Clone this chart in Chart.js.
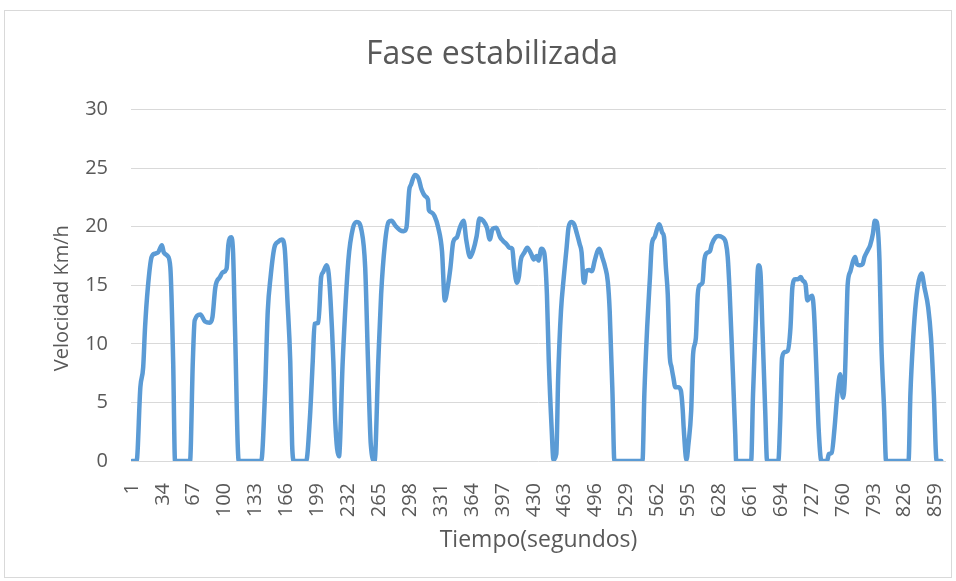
<html>
<head>
  <meta charset="UTF-8">
  <script src="https://cdn.jsdelivr.net/npm/chart.js@4.4.0/dist/chart.umd.min.js"></script>
  <style>
    body { margin: 0; background: #ffffff; }
  </style>
</head>

<body>
  <canvas id='chart' width="956" height="581"></canvas>
  <script>
    // segundos
    const tiempo = [1, 6, 10, 13, 15, 18, 22, 26, 29, 33, 35, 39, 42, 45, 47,
      63, 66, 68, 74, 79, 84, 87, 90, 95, 98, 102, 104, 107, 109, 111, 115,
      139, 143, 146, 149, 153, 157, 161, 164, 167, 170, 172, 174,
      187, 191, 194, 196, 200, 203, 205, 209, 211, 213, 216, 218, 222,
      226, 232, 237, 241, 246, 250, 253, 256, 260,
      264, 267, 271, 275, 278, 283, 287, 291, 294, 297, 299, 303, 307, 310, 314, 317, 318, 321, 324, 328,
      332, 335, 338, 341, 344, 348, 351, 355, 358, 362, 365, 369, 372, 376, 380, 383,
      386, 390, 394, 397, 401, 404, 407, 409, 412, 414, 416, 420, 423, 427, 430, 433, 435, 438, 441,
      444, 446, 449, 451, 454, 456, 459, 462, 465, 467, 470, 473, 476, 479, 481, 483, 484, 486, 489,
      492, 495, 498, 500, 503, 506, 509, 511, 514, 516,
      546, 548, 551, 554, 556, 559, 562, 564, 567, 569, 571, 573, 575, 577, 579, 581, 584, 587, 589,
      590, 593, 595, 598, 600, 603, 605, 607, 610, 612, 614, 618, 620, 624, 627, 631, 635, 637, 639,
      642, 645, 646,
      662, 664, 667, 669, 670, 672, 674, 677, 679,
      691, 693, 695, 698, 701, 704, 706, 709, 712, 715, 717, 720, 722, 725, 727, 729, 732, 734, 737,
      743, 745, 748, 751, 754, 757, 760, 762, 764, 765, 768, 771, 773, 775, 778, 781, 783, 786, 789,
      792, 794, 796, 799, 801, 804, 806,
      830, 832, 835, 838, 841, 844, 847, 851, 854, 857, 860, 865];

    // Km/h
    const velocidad = [0, 0, 6.3, 8.0, 11.4, 14.8, 17.4, 17.7, 17.8, 18.4, 17.8, 17.5, 16.5, 8.5, 0,
      0, 8.5, 12.0, 12.5, 11.9, 11.8, 12.3, 14.8, 15.7, 16.1, 16.4, 18.5, 19.1, 17.7, 11.4, 0,
      0, 5.7, 12.8, 15.7, 18.2, 18.7, 18.9, 18.2, 13.7, 8.5, 1.4, 0,
      0, 3.7, 8.5, 11.7, 11.8, 15.7, 16.1, 16.7, 16.0, 13.7, 8.5, 3.4, 0.4,
      8.5, 17.1, 19.9, 20.4, 19.7, 16.5, 8.5, 1.4, 0,
      8.5, 14.2, 18.5, 20.4, 20.5, 20.0, 19.7, 19.6, 19.9, 23.1, 23.6, 24.4, 24.1, 23.2, 22.6, 22.3, 21.4, 21.2, 20.9, 19.9,
      17.9, 13.7, 14.8, 16.5, 18.7, 19.1, 19.9, 20.5, 18.8, 17.4, 17.9, 19.2, 20.7, 20.5, 19.9, 18.9,
      19.8, 19.9, 19.1, 18.8, 18.5, 18.2, 18.1, 16.5, 15.2, 15.7, 17.1, 17.8, 18.2, 17.7, 17.2, 17.5, 17.1, 18.1, 17.8,
      14.2, 8.5, 2.8, 0.1, 0.6, 7.1, 12.8, 15.7, 18.2, 19.9, 20.4, 20.2, 19.4, 18.5, 17.8, 15.4, 15.2, 16.2, 16.3,
      16.2, 17.1, 17.9, 18.1, 17.4, 16.6, 15.3, 12.8, 5.7, 0,
      0, 5.7, 11.4, 15.7, 18.5, 19.1, 19.9, 20.2, 19.5, 19.1, 16.5, 14.2, 9.1, 8.0, 7.1, 6.3, 6.3, 6.0, 4.3,
      2.8, 0.1, 1.4, 4.3, 9.1, 10.5, 14.2, 15.0, 15.2, 17.1, 17.7, 17.9, 18.5, 19.1, 19.2, 19.1, 18.6, 17.4, 14.5,
      8.5, 2.3, 0,
      0, 5.7, 12.0, 16.2, 16.7, 16.0, 11.4, 4.3, 0,
      0, 3.4, 8.8, 9.3, 9.4, 11.4, 14.8, 15.5, 15.5, 15.7, 15.4, 15.1, 13.7, 14.0, 14.1, 12.8, 7.1, 2.8, 0,
      0, 0.6, 0.7, 2.8, 5.7, 7.4, 5.4, 7.0, 12.5, 15.0, 16.2, 17.1, 17.4, 16.8, 16.7, 16.8, 17.4, 17.9, 18.4,
      19.4, 20.5, 20.4, 17.1, 10.0, 4.3, 0,
      0, 5.7, 10.5, 13.7, 15.4, 16.0, 14.8, 13.1, 10.5, 5.7, 0, 0];

    const etiquetasX = [1, 34, 67, 100, 133, 166, 199, 232, 265, 298, 331, 364, 397, 430,
      463, 496, 529, 562, 595, 628, 661, 694, 727, 760, 793, 826, 859];

    const puntos = tiempo.map((t, i) => ({x: t, y: velocidad[i]}));

    const gris = '#595959';

    const marco = {
      id: 'marco',
      beforeDraw(chart) {
        const c = chart.ctx;
        c.save();
        c.fillStyle = '#ffffff';
        c.fillRect(0, 0, chart.width, chart.height);
        c.strokeStyle = '#d9d9d9';
        c.lineWidth = 1;
        c.strokeRect(4.5, 10.5, 947, 567);
        c.restore();
      }
    };

    const ctx = document.getElementById('chart').getContext('2d');
    const myChart = new Chart(ctx, {
      type: 'line',
      data: {
        datasets: [
          {
            label: 'Velocidad',
            data: puntos,
            borderColor: '#5b9bd5',
            borderWidth: 4.5,
            pointRadius: 0,
            fill: false,
            cubicInterpolationMode: 'monotone',
            borderJoinStyle: 'round',
            borderCapStyle: 'round'
          }
        ]
      },
      options: {
        responsive: false,
        animation: false,
        layout: { padding: { left: 38, right: 10, top: 0, bottom: 0 } },
        plugins: {
          legend: { display: false },
          tooltip: { enabled: false },
          title: {
            display: true,
            text: 'Fase estabilizada',
            color: gris,
            font: { family: 'Open Sans', size: 32, weight: 'normal' },
            padding: { top: 36, bottom: 35 }
          }
        },
        scales: {
          x: {
            type: 'linear',
            min: 0,
            max: 870,
            grid: { display: false },
            border: { display: false },
            afterBuildTicks: (scale) => {
              scale.ticks = etiquetasX.map(v => ({value: v}));
            },
            afterFit: (scale) => {
              scale.height = 120;
              scale.paddingLeft = 0;
              scale.paddingRight = 0;
            },
            ticks: {
              autoSkip: false,
              minRotation: 90,
              maxRotation: 90,
              padding: 14,
              color: gris,
              font: { family: 'Open Sans', size: 20 },
              callback: (v) => String(v)
            },
            title: {
              display: true,
              text: 'Tiempo(segundos)',
              color: gris,
              font: { family: 'Open Sans', size: 23 },
              padding: { top: 0, bottom: 27 }
            }
          },
          y: {
            min: 0,
            max: 30,
            grid: { color: '#d9d9d9', lineWidth: 1, drawTicks: false },
            border: { display: false },
            afterFit: (scale) => { scale.width = 93; },
            ticks: {
              stepSize: 5,
              padding: 23,
              color: gris,
              font: { family: 'Open Sans', size: 20 }
            },
            title: {
              display: true,
              text: 'Velocidad Km/h     ',
              color: gris,
              font: { family: 'Open Sans', size: 20 },
              padding: { top: 12, bottom: 0 }
            }
          }
        }
      },
      plugins: [marco]
    });
  </script>
</body>
</html>
